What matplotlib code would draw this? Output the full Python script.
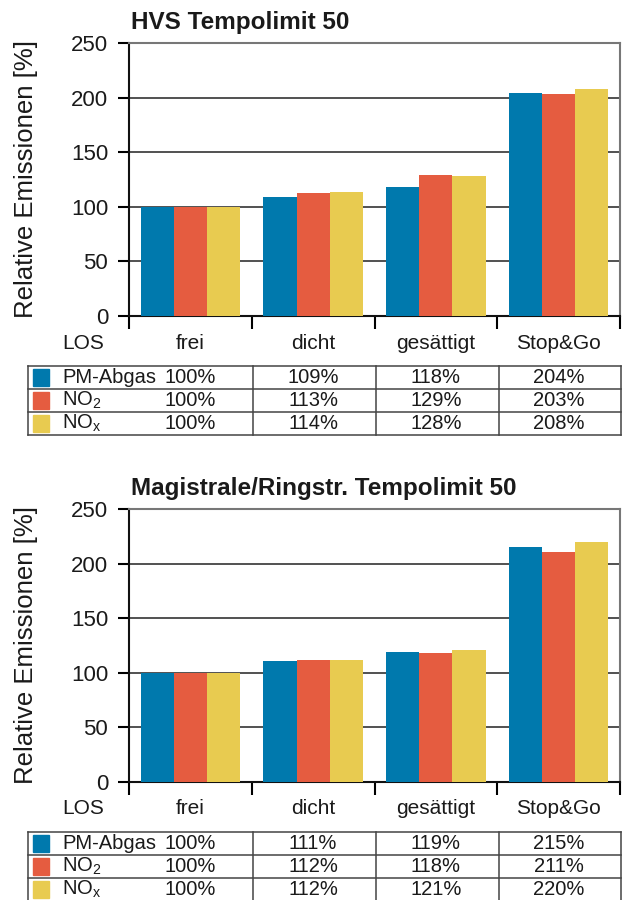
import matplotlib.pyplot as plt
import matplotlib.transforms as mtransforms
from matplotlib.patches import Rectangle

plt.rcParams['font.family'] = ['Liberation Sans', 'DejaVu Sans']
plt.rcParams['mathtext.default'] = 'regular'

# Data

categories = ["frei", "dicht", "gesättigt", "Stop&Go"]
series_names = ["PM-Abgas", "NO$_2$", "NO$_x$"]
colors = ["#0079AD", "#E55C40", "#E8CB50"]

hvs_pm = [100, 109, 118, 204]
hvs_no2 = [100, 113, 129, 203]
hvs_nox = [100, 114, 128, 208]

mag_pm = [100, 111, 119, 215]
mag_no2 = [100, 112, 118, 211]
mag_nox = [100, 112, 121, 220]

y_ticks = [0, 50, 100, 150, 200, 250]

W, H = 622, 900
fig = plt.figure(figsize=(W / 100, H / 100), dpi=100)

text_col = "#1a1a1a"


def fy(px):
    # pixel row from top -> figure fraction
    return 1 - px / H


def panel(top_px, bottom_px, title, series, table_top, row_h):
    ax = fig.add_axes([129 / W, fy(bottom_px), 491 / W, (bottom_px - top_px) / H])
    x = list(range(len(categories)))
    bw = 0.27
    for i, vals in enumerate(series):
        ax.bar([xi + (i - 1) * bw for xi in x], vals, width=bw,
               color=colors[i], zorder=3, linewidth=0)

    ax.set_xlim(-0.5, 3.5)
    ax.set_ylim(0, 250)
    ax.set_yticks(y_ticks)
    ax.tick_params(axis="y", labelsize=16, length=8, width=1.5, pad=7,
                   labelcolor=text_col)
    ax.set_xticks([-0.5, 0.5, 1.5, 2.5, 3.5])
    ax.set_xticklabels([])
    ax.tick_params(axis="x", length=9, width=1.5)
    ax.grid(axis="y", color="#222222", linewidth=1.1, zorder=1)
    ax.set_axisbelow(True)
    for s in ["left", "bottom"]:
        ax.spines[s].set_color("#111111")
        ax.spines[s].set_linewidth(1.5)
    for s in ["top", "right"]:
        ax.spines[s].set_color("#777777")
        ax.spines[s].set_linewidth(1.5)

    ax.set_ylabel("Relative Emissionen [%]", fontsize=18.5, color=text_col)
    ax.yaxis.set_label_coords(-0.186, 0.5)

    fig.text(131 / W, fy(top_px - 21), title, fontsize=17.5, fontweight="bold",
             ha="left", va="center", color=text_col)

    trans = mtransforms.blended_transform_factory(ax.transData, fig.transFigure)
    lab_y = fy(bottom_px + 27)
    fig.text(62 / W, lab_y, "LOS", fontsize=15, ha="left", va="center",
             color=text_col)
    for xi, c in zip(x, categories):
        ax.text(xi, lab_y, c, transform=trans, fontsize=15,
                ha="center", va="center", clip_on=False, color=text_col)

    # table
    left_px = 28
    right_px = 621
    line_kw = dict(color="#444444", linewidth=1.1)
    n = len(series)
    for r in range(n + 1):
        yy = fy(table_top + r * row_h)
        fig.add_artist(plt.Line2D([left_px / W, right_px / W], [yy, yy], **line_kw))
    yt, yb = fy(table_top), fy(table_top + n * row_h)
    for xb in [left_px, 253, 376, 499, right_px]:
        fig.add_artist(plt.Line2D([xb / W, xb / W], [yt, yb], **line_kw))
    for r, vals in enumerate(series):
        cy_px = table_top + (r + 0.5) * row_h
        fig.add_artist(Rectangle((33 / W, fy(cy_px + 8.5)), 16 / W, 17 / H,
                                 transform=fig.transFigure, color=colors[r]))
        fig.text(62 / W, fy(cy_px), series_names[r], fontsize=14.5,
                 ha="left", va="center", color=text_col)
        for xi, v in zip(x, vals):
            ax.text(xi, fy(cy_px), f"{v}%", transform=trans, fontsize=14.5,
                    ha="center", va="center", clip_on=False, color=text_col)
    return ax


panel(43, 316, "HVS Tempolimit 50", [hvs_pm, hvs_no2, hvs_nox], 366, 23)
panel(509, 782, "Magistrale/Ringstr. Tempolimit 50", [mag_pm, mag_no2, mag_nox], 832, 23)

fig.savefig("out.png", dpi=100)
